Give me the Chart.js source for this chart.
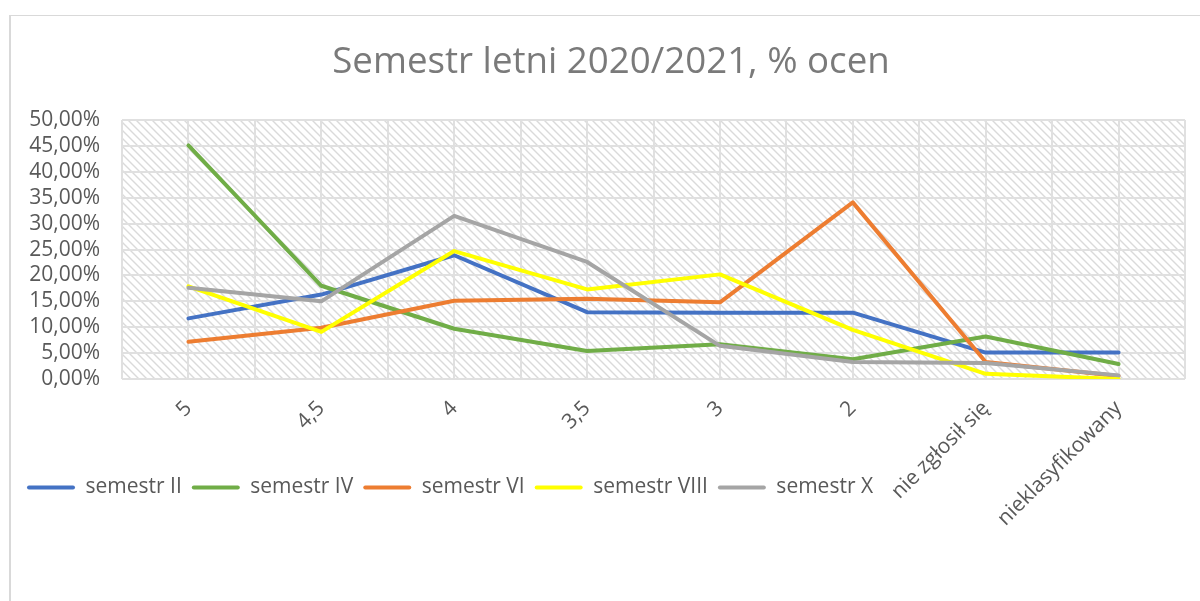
<!DOCTYPE html>
<html>
<head>
<meta charset="utf-8">
<script src="https://cdn.jsdelivr.net/npm/chart.js@4.4.0/dist/chart.umd.min.js"></script>
<style>
  html, body { margin: 0; padding: 0; background: #fff; }
  #wrap { position: relative; width: 1200px; height: 601px; overflow: hidden; }
  #frame { position: absolute; left: 9px; top: 15px; width: 1300px; height: 700px;
           border-left: 2px solid #d9d9d9; border-top: 1px solid #d9d9d9; }
  canvas { position: absolute; left: 0; top: 0; }
</style>
</head>
<body>
<div id="wrap">
  <div id="frame"></div>
  <canvas id="chart" width="1200" height="601"></canvas>
</div>
<script>
// ── Data ───────────────────────────────────────────────────────────────────
const CATEGORIES = ["5", "4,5", "4", "3,5", "3", "2", "nie zgłosił się", "nieklasyfikowany"];
const SEM_II   = [11.7, 16.3, 23.9, 12.9, 12.8, 12.8, 5.1, 5.1];
const SEM_IV   = [45.1, 18.0,  9.7,  5.4,  6.7,  3.8, 8.2, 2.9];
const SEM_VI   = [ 7.2,  9.9, 15.1, 15.5, 14.8, 34.1, 3.3, 0.6];
const SEM_VIII = [17.9,  9.1, 24.7, 17.3, 20.2,  9.5, 1.0, 0.0];
const SEM_X    = [17.6, 15.0, 31.5, 22.6,  6.4,  3.3, 3.1, 0.7];
const SERIES_NAMES = ["semestr II", "semestr IV", "semestr VI", "semestr VIII", "semestr X"];
const Y_MAX  = 50;
const Y_STEP = 5;

const COLORS = ["#4472c4", "#70ad47", "#ed7d31", "#ffff00", "#a5a5a5"];
const FONT   = "'Open Sans', 'Liberation Sans', sans-serif";
const TEXT   = "#595959";
const GRID   = "#e0e0e0";
const LEGEND_TOP  = 467;  // legend sits over the rotated category labels, as in Excel
const TITLE_SHIFT = 10;   // title is centred a bit right of the canvas middle

// ── Plugins ────────────────────────────────────────────────────────────────

function makeHatch() {
  const c = document.createElement("canvas");
  c.width = 8; c.height = 8;
  const g = c.getContext("2d");
  g.strokeStyle = "#dadada";
  g.lineWidth = 1.4;
  g.beginPath();
  g.moveTo(0, 0);  g.lineTo(8, 8);
  g.moveTo(-2, 6); g.lineTo(2, 10);
  g.moveTo(6, -2); g.lineTo(10, 2);
  g.stroke();
  return c;
}

const hatchPlugin = {
  id: "hatch",
  beforeDraw(chart) {
    const { ctx, chartArea: a } = chart;
    ctx.save();
    ctx.fillStyle = ctx.createPattern(makeHatch(), "repeat");
    ctx.fillRect(a.left, a.top, a.right - a.left, a.bottom - a.top);
    ctx.restore();
  },
};

const boxShift = {
  id: "boxShift",
  afterLayout(chart) {
    const lg = chart.legend;
    const dy = lg.top - LEGEND_TOP;
    lg.top -= dy;
    lg.bottom -= dy;
    const t = chart.titleBlock;
    t.left += TITLE_SHIFT;
    t.right += TITLE_SHIFT;
  },
};

// ── Chart ──────────────────────────────────────────────────────────────────

const seriesData = [SEM_II, SEM_IV, SEM_VI, SEM_VIII, SEM_X];

new Chart(document.getElementById("chart").getContext("2d"), {
  type: "line",
  data: {
    labels: CATEGORIES,
    datasets: seriesData.map((d, i) => ({
      label: SERIES_NAMES[i],
      data: d,
      borderColor: COLORS[i],
      backgroundColor: COLORS[i],
      borderWidth: 4,
      pointRadius: 0,
      tension: 0,
      borderJoinStyle: "round",
      borderCapStyle: "round",
      order: seriesData.length - i,
    })),
  },
  plugins: [hatchPlugin, boxShift],
  options: {
    responsive: false,
    animation: false,
    layout: { padding: { left: 17, right: 15, top: 0, bottom: 21 } },
    plugins: {
      tooltip: { enabled: false },
      title: {
        display: true,
        text: "Semestr letni 2020/2021, % ocen",
        color: "#7a7a7a",
        font: { family: FONT, size: 36.7, weight: "normal" },
        padding: { top: 41, bottom: 35 },
      },
      legend: {
        position: "bottom",
        align: "start",
        labels: {
          color: TEXT,
          font: { family: FONT, size: 21 },
          boxWidth: 48,
          boxHeight: 4,
          padding: 10,
          useBorderRadius: true,
          borderRadius: 2,
          sort: (a, b) => a.datasetIndex - b.datasetIndex,
          generateLabels(chart) {
            return Chart.defaults.plugins.legend.labels.generateLabels(chart).map(it => ({
              ...it, lineWidth: 0, fillStyle: COLORS[it.datasetIndex],
            }));
          },
        },
      },
    },
    scales: {
      x: {
        type: "category",
        offset: true,
        grid: { display: false },
        border: { display: false },
        ticks: {
          color: TEXT,
          font: { family: FONT, size: 21 },
          minRotation: 45, maxRotation: 45,
          autoSkip: false,
          padding: 9,
        },
        afterFit(s) { s.height = 160; },
      },
      xg: {
        type: "linear",
        position: "top",
        min: 0, max: CATEGORIES.length * 2,
        ticks: { display: false, stepSize: 1 },
        grid: { color: GRID, lineWidth: 2, drawTicks: false },
        border: { display: false },
      },
      y: {
        min: 0, max: Y_MAX,
        ticks: {
          stepSize: Y_STEP,
          autoSkip: false,
          maxTicksLimit: 20,
          color: TEXT,
          font: { family: FONT, size: 21 },
          padding: 22,
          callback: v => v.toFixed(2).replace(".", ",") + "%",
        },
        grid: { color: GRID, lineWidth: 2, drawTicks: false },
        border: { display: false },
        afterFit(s) { s.width = 105; },
      },
    },
  },
});
</script>
</body>
</html>
